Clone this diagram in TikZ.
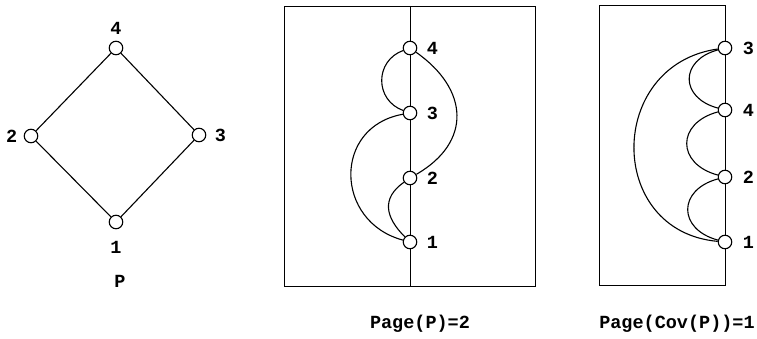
\documentclass[tikz,border=0pt]{standalone}
\usepackage{fontspec}
\setmainfont{Liberation Mono}
\usetikzlibrary{positioning}

\begin{document}
\begin{tikzpicture}[
  x=1pt, y=1pt,
  font=\bfseries\fontsize{18.5}{20}\selectfont,
  vtx/.style={circle, draw, fill=white, line width=1.1pt, minimum size=13.5pt, inner sep=0pt},
  edge/.style={line width=1.1pt},
  frame/.style={line width=0.9pt},
  caption/.style={anchor=base},
]
\useasboundingbox (0,0) rectangle (757,-339);

% the poset P
\node[vtx, label={[label distance=3pt]above:4}] (a4) at (116,-48) {};
\node[vtx, label={[label distance=3pt]left:2}] (a2) at (31,-136) {};
\node[vtx, label={[label distance=5pt]right:3}] (a3) at (199,-135) {};
\node[vtx, label={[label distance=8pt]below:1}] (a1) at (116,-222) {};
\draw[edge] (a1) -- (a2) -- (a4) -- (a3) -- (a1);
\node[caption] (capP) at (120,-287) {P};

% book embedding, two pages
\coordinate (mtop) at (410,-6);
\coordinate (mbot) at (410,-286);
\draw[frame] (284,-6) rectangle (535,-286);
\node[vtx, label={[label distance=6pt]right:4}] (m4) at (410,-48) {};
\node[vtx, label={[label distance=6pt]right:3}] (m3) at (410,-113) {};
\node[vtx, label={[label distance=6pt]right:2}] (m2) at (410,-178) {};
\node[vtx, label={[label distance=6pt]right:1}] (m1) at (410,-242) {};
\draw[frame] (mtop) -- (m4) -- (m3) -- (m2) -- (m1) -- (mbot);
\draw[edge] (m4) to[out=200, in=160, looseness=1.3] (m3);
\draw[edge] (m3) to[out=190, in=165, looseness=1.45] (m1);
\draw[edge] (m4) to[out=-35, in=30, looseness=1.35] (m2);
\draw[edge] (m2) to[out=215, in=135, looseness=1.3] (m1);
\node[caption] (capmid) at (420,-328) {Page(P)=2};

% book embedding of Cov(P), one page
\coordinate (rtop) at (725,-5);
\coordinate (rbot) at (725,-285);
\node[vtx, label={[label distance=7pt]right:3}] (r3) at (725,-48) {};
\node[vtx, label={[label distance=7pt]right:4}] (r4) at (725,-110) {};
\node[vtx, label={[label distance=7pt]right:2}] (r2) at (725,-177) {};
\node[vtx, label={[label distance=7pt]right:1}] (r1) at (725,-242) {};
\draw[frame] (r3) -- (rtop) -| (599,-285) -| (r1);
\draw[frame] (r3) -- (r4) -- (r2) -- (r1);
\draw[edge] (r3) to[out=195, in=165, looseness=1.75] (r4);
\draw[edge] (r4) to[out=195, in=165, looseness=1.75] (r2);
\draw[edge] (r2) to[out=195, in=165, looseness=1.75] (r1);
\draw[edge] (r3) to[out=188, in=175, looseness=1.5] (r1);
\node[caption] (capright) at (677,-328) {Page(Cov(P))=1};
\end{tikzpicture}
\end{document}
